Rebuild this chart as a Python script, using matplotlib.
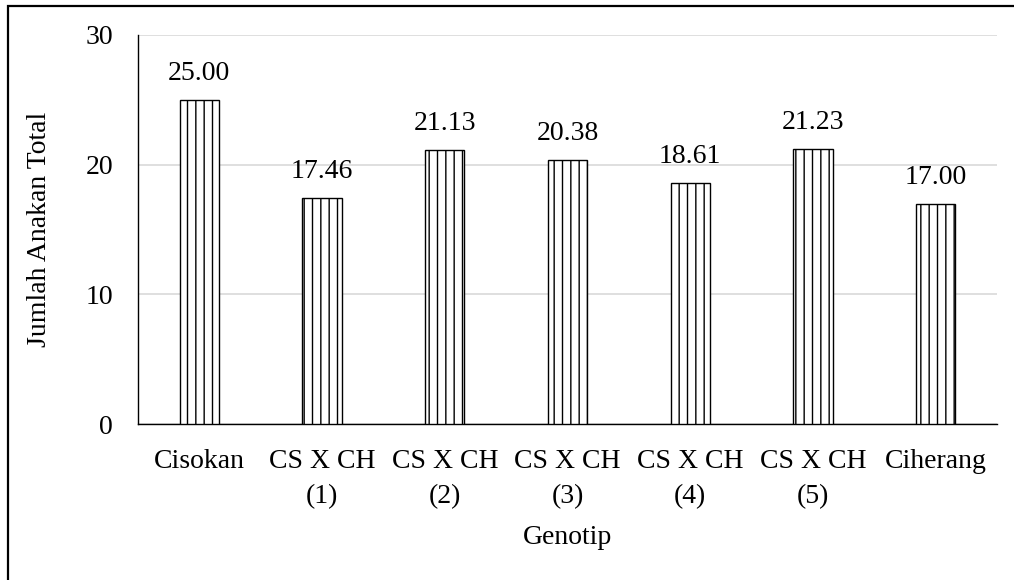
import numpy as np
import matplotlib
matplotlib.use("Agg")
import matplotlib.pyplot as plt
from matplotlib.patches import Rectangle

# data
genotypes = ["Cisokan", "CS X CH\n(1)", "CS X CH\n(2)", "CS X CH\n(3)",
             "CS X CH\n(4)", "CS X CH\n(5)", "Ciherang"]
total_tillers = [25.00, 17.46, 21.13, 20.38, 18.61, 21.23, 17.00]
y_ticks = [0, 10, 20, 30]

plt.rcParams['font.family'] = ['Liberation Serif', 'DejaVu Serif']
plt.rcParams['hatch.linewidth'] = 1.0

fig = plt.figure(figsize=(10.14, 5.8), dpi=100)
ax = fig.add_axes([138 / 1014, 1 - 424 / 580, (997 - 138) / 1014, (424 - 35) / 580])

x = np.arange(len(genotypes))
bars = ax.bar(x, total_tillers, width=0.32, color='white', edgecolor='black',
              linewidth=1.0, hatch='||', zorder=3)

for xi, v in zip(x, total_tillers):
    ax.annotate(f"{v:.2f}", (xi, v), xytext=(0, 10), textcoords='offset points',
                ha='center', va='bottom', fontsize=20)

ax.set_xlim(-0.5, len(genotypes) - 0.5)
ax.set_ylim(0, 30)
ax.set_yticks(y_ticks)
ax.set_xticks(x)
ax.set_xticklabels(genotypes, fontsize=20, linespacing=1.55)
ax.tick_params(axis='y', length=0, pad=18, labelsize=20)
ax.tick_params(axis='x', length=0, pad=18)
ax.yaxis.grid(True, color='#d9d9d9', linewidth=1.2, zorder=0)
ax.set_axisbelow(True)

for side in ['top', 'right']:
    ax.spines[side].set_visible(False)
ax.spines['left'].set_color('black')
ax.spines['bottom'].set_color('black')
ax.spines['left'].set_linewidth(1.0)
ax.spines['bottom'].set_linewidth(1.0)

ax.set_ylabel("Jumlah Anakan Total", fontsize=20, labelpad=24)
ax.set_xlabel("Genotip", fontsize=20, labelpad=11)

# outer chart border (right and bottom edges fall outside the image)
fig.patches.append(Rectangle((8 / 1014, -0.2), 1.2, 1.2 - 6 / 580,
                             transform=fig.transFigure, fill=False,
                             edgecolor='black', linewidth=1.6))

fig.savefig("out.png", dpi=100)
